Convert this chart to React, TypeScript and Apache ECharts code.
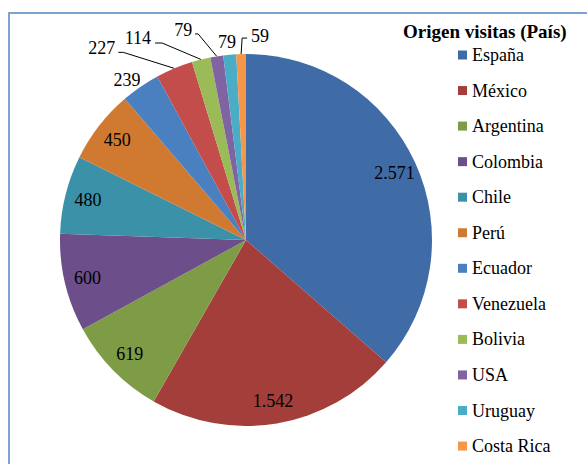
import React, { useEffect, useRef } from "react";
import * as echarts from "echarts";

const countries = ["España", "México", "Argentina", "Colombia", "Chile", "Perú", "Ecuador", "Venezuela", "Bolivia", "USA", "Uruguay", "Costa Rica"];
const visits = [2571, 1542, 619, 600, 480, 450, 239, 227, 114, 79, 79, 59];
const colors = ["#3F6CA6", "#A33E3B", "#7E9B45", "#6B4E8A", "#3A91A8", "#D07A31", "#4A7FC0", "#C24D4A", "#9BBB59", "#8064A2", "#4BACC6", "#F79646"];

// label placement style for the small slices (offsets relative to the slice's outer edge point)
type Off = { tx: number; ty: number; align: string; ex?: number; ey?: number; fx?: number; fy?: number } | null;
const labelOffsets: Off[] = [
  null, null, null, null, null, null,
  { tx: 0, ty: -7, align: "right" },
  { tx: -59, ty: -20, align: "right", ex: -51, ey: -16, fx: -56, fy: -16 },
  { tx: -50, ty: -21.5, align: "right", ex: -39, ey: -16.5, fx: -46, fy: -16.5 },
  { tx: -24.6, ty: -26.4, align: "right", ex: -18.6, ey: -22.4, fx: -21.6, fy: -22.4 },
  { tx: -2.8, ty: -12.7, align: "center" },
  { tx: 10, ty: -18, align: "left", ex: 1, ey: -16, fx: 6, fy: -16 },
];

const fmt = (v: number) => String(v).replace(/\B(?=(\d{3})+(?!\d))/g, ".");
const FONT = "Liberation Serif";

export default function App() {
  const ref = useRef<HTMLDivElement>(null);
  useEffect(() => {
    const chart = echarts.init(ref.current!, undefined, { renderer: "svg" });
    const center = [246, 240];
    chart.setOption({
      animation: false,
      color: colors,
      textStyle: { fontFamily: FONT },
      title: {
        text: "Origen visitas (País)",
        left: 403,
        top: 21.5,
        padding: 0,
        textStyle: { fontFamily: FONT, fontSize: 19, fontWeight: "bold", color: "#000" },
      },
      legend: {
        orient: "vertical",
        left: 458,
        top: 46,
        padding: 0,
        itemWidth: 9,
        itemHeight: 9,
        itemGap: 17.55,
        icon: "rect",
        data: countries,
        textStyle: { fontFamily: FONT, fontSize: 18, lineHeight: 18, color: "#000" },
      },
      graphic: [
        {
          type: "rect",
          shape: { x: 9, y: 13, width: 800, height: 800 },
          style: { fill: "none", stroke: "#7FA3D0", lineWidth: 2 },
          silent: true,
        },
      ],
      series: [
        {
          type: "pie",
          center,
          radius: [0, 186],
          startAngle: 90,
          clockwise: true,
          label: { show: false },
          labelLine: { show: false },
          data: countries.map((c, i) => ({ name: c, value: visits[i] })),
        },
        {
          type: "pie",
          center,
          radius: [134, 186],
          startAngle: 90,
          clockwise: true,
          silent: true,
          avoidLabelOverlap: false,
          itemStyle: { color: "rgba(0,0,0,0)" },
          label: {
            fontFamily: FONT,
            fontSize: 18,
            color: "#000",
            formatter: (p: any) => fmt(p.value),
          },
          labelLine: { lineStyle: { color: "#000", width: 1 } },
          labelLayout: (params: any) => {
            const o = labelOffsets[params.dataIndex];
            const pts = params.labelLinePoints;
            if (!o || !pts) return {};
            const [ax, ay] = pts[0];
            const line =
              o.ex === undefined
                ? [[ax, ay], [ax, ay], [ax, ay]]
                : [[ax, ay], [ax + o.ex, ay + (o.ey as number)], [ax + (o.fx as number), ay + (o.fy as number)]];
            return { x: ax + o.tx, y: ay + o.ty, align: o.align, verticalAlign: "middle", labelLinePoints: line };
          },
          data: countries.map((c, i) => ({
            name: c,
            value: visits[i],
            label: { position: labelOffsets[i] ? "outside" : "inside" },
            labelLine: {
              show: !!labelOffsets[i],
              length: 10,
              length2: 5,
              lineStyle: { color: "#000", width: 1, opacity: labelOffsets[i] && labelOffsets[i]!.ex !== undefined ? 1 : 0 },
            },
          })),
        },
      ],
    });
    return () => chart.dispose();
  }, []);
  return <div ref={ref} style={{ position: "fixed", left: 0, top: 0, width: 587, height: 464, background: "#fff" }} />;
}
